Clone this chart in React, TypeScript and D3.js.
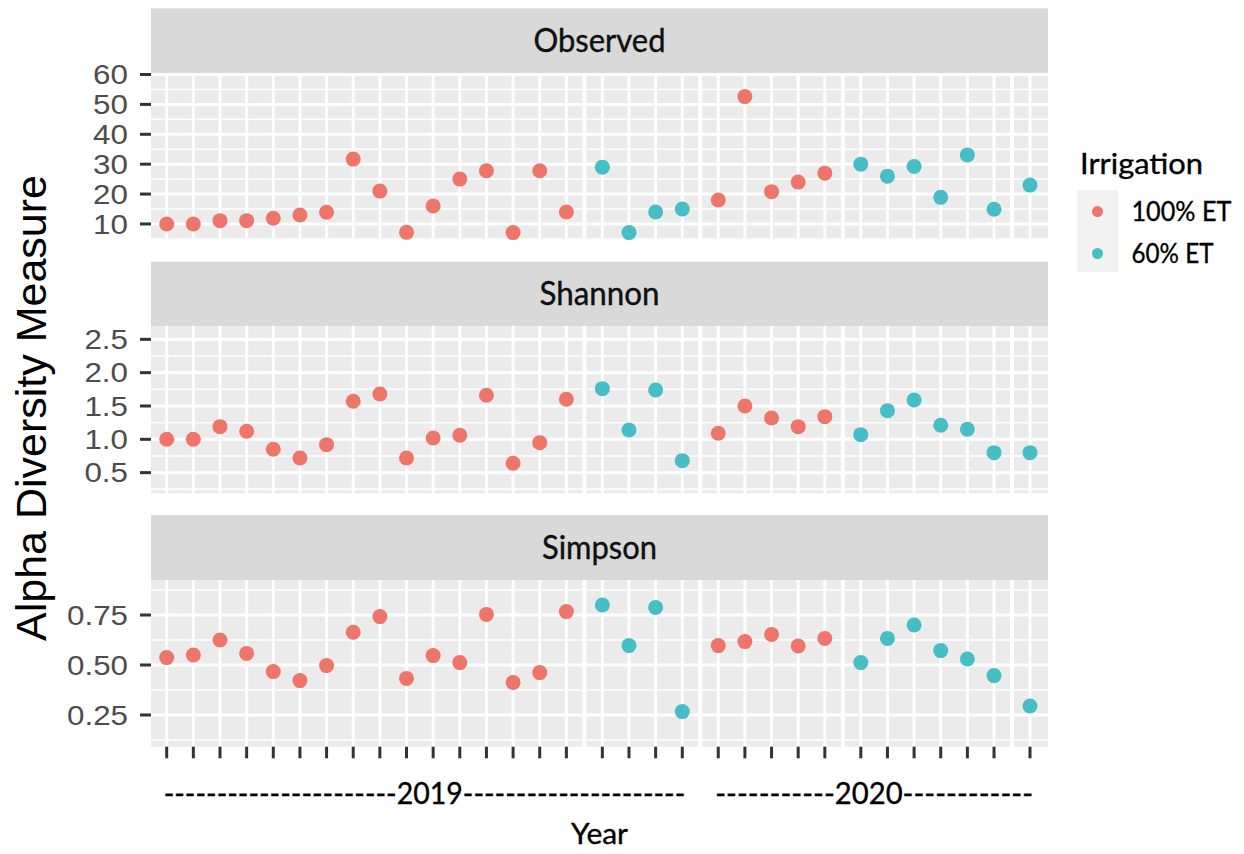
import React from "react";
import * as d3 from "d3";

// ---------------- DATA ----------------
const years = [
  "2019", "2019", "2019", "2019", "2019", "2019", "2019", "2019", "2019", "2019",
  "2019", "2019", "2019", "2019", "2019", "2019", "2019", "2019", "2019", "2019",
  "2020", "2020", "2020", "2020", "2020", "2020", "2020", "2020", "2020", "2020",
  "2020", "2020",
];
const irrigation = [
  "100% ET", "100% ET", "100% ET", "100% ET", "100% ET", "100% ET", "100% ET", "100% ET",
  "100% ET", "100% ET", "100% ET", "100% ET", "100% ET", "100% ET", "100% ET", "100% ET",
  "60% ET", "60% ET", "60% ET", "60% ET",
  "100% ET", "100% ET", "100% ET", "100% ET", "100% ET",
  "60% ET", "60% ET", "60% ET", "60% ET", "60% ET", "60% ET", "60% ET",
];
// sampling block of each sample (blocks are separated by a small gap on the x axis)
const block = [
  1, 1, 1, 1, 1, 1, 1, 1, 1, 1, 1, 1, 1, 1, 1, 1,
  2, 2, 2, 2,
  3, 3, 3, 3, 3,
  4, 4, 4, 4, 4, 4,
  5,
];
const observed = [
  10, 10, 11.1, 11.1, 11.9, 13, 13.9, 31.7, 21, 7.2,
  16, 25, 27.8, 7.1, 27.8, 14, 29, 7.1, 14, 15,
  18, 52.6, 20.8, 24, 27, 30, 26, 29.2, 18.9, 33.1,
  14.9, 23,
];
const shannon = [
  1.0, 1.0, 1.19, 1.12, 0.85, 0.72, 0.92, 1.57, 1.68, 0.72,
  1.02, 1.06, 1.66, 0.64, 0.95, 1.6, 1.76, 1.14, 1.74, 0.68,
  1.09, 1.5, 1.32, 1.19, 1.34, 1.07, 1.43, 1.59, 1.21, 1.15,
  0.8, 0.8,
];
const simpson = [
  0.537, 0.55, 0.625, 0.558, 0.467, 0.422, 0.497, 0.664, 0.742, 0.433,
  0.547, 0.512, 0.753, 0.413, 0.462, 0.767, 0.8, 0.597, 0.788, 0.267,
  0.597, 0.617, 0.653, 0.595, 0.633, 0.512, 0.633, 0.7, 0.572, 0.53,
  0.447, 0.295,
];

const measureNames = ["Observed", "Shannon", "Simpson"];
const observedTicks = [10, 20, 30, 40, 50, 60];
const shannonTicks = [0.5, 1.0, 1.5, 2.0, 2.5];
const simpsonTicks = [0.25, 0.5, 0.75];
const legendTitle = "Irrigation";
const legendLabels = ["100% ET", "60% ET"];
const yearAxisLabels = [
  { year: "2019", text: "----------------------2019---------------------" },
  { year: "2020", text: "-----------2020------------" },
];
const xTitle = "Year";
const yTitle = "Alpha Diversity Measure";

// ---------------- LAYOUT / STYLE ----------------
const W = 1244;
const H = 854;
const PANEL_LEFT = 151;
const PANEL_RIGHT = 1048;
const X_FIRST = 166.7;
const X_LAST = 1030;
const BLOCK_GAP = 0.35;

const COLORS: Record<string, string> = {
  "100% ET": "#EE7569",
  "60% ET": "#47BEC6",
};
const PANEL_BG = "#EBEBEB";
const STRIP_BG = "#D9D9D9";
const TICK_COL = "#333333";
const LABEL_COL = "#4D4D4D";
const SANS = "'Liberation Sans', Arial, Helvetica, sans-serif";
const HUMAN = "Lato, 'Open Sans', sans-serif";
const HUMAN_STROKE = { stroke: "#000", strokeWidth: 0.35 };

const panelsCfg = [
  { values: observed, ticks: observedTicks, domain: [5.2, 60.4], fmt: d3.format("d"), stripTop: 8.3, top: 73.3, bottom: 238.3, stripWidth: 132 },
  { values: shannon, ticks: shannonTicks, domain: [0.19, 2.7], fmt: d3.format(".1f"), stripTop: 261.7, top: 326, bottom: 493.3, stripWidth: 120 },
  { values: simpson, ticks: simpsonTicks, domain: [0.0915, 0.925], fmt: d3.format(".2f"), stripTop: 515, top: 580, bottom: 746.7, stripWidth: 115 },
];

function slot(i: number) {
  return i + BLOCK_GAP * (block[i] - 1);
}

export default function App() {
  const n = observed.length;
  const idx = d3.range(n);
  const x = d3.scaleLinear().domain([slot(0), slot(n - 1)]).range([X_FIRST, X_LAST]);
  const xs = idx.map((i) => x(slot(i)));

  // seams between sampling blocks
  const seams: number[] = [];
  for (let i = 1; i < n; i++) {
    if (block[i] !== block[i - 1]) seams.push((xs[i] + xs[i - 1]) / 2);
  }

  const lastPanel = panelsCfg[panelsCfg.length - 1];

  return (
    <svg width={W} height={H} style={{ position: "absolute", left: 0, top: 0, background: "#fff" }}>
      {panelsCfg.map((p, pi) => {
        const y = d3.scaleLinear().domain(p.domain).range([p.bottom, p.top]);
        const step = p.ticks[1] - p.ticks[0];
        const minors = [p.ticks[0] - step / 2, ...p.ticks.map((t) => t + step / 2)].filter(
          (v) => v >= p.domain[0] && v <= p.domain[1]
        );
        return (
          <g key={pi}>
            {/* strip */}
            <rect x={PANEL_LEFT} y={p.stripTop} width={PANEL_RIGHT - PANEL_LEFT} height={p.top - p.stripTop} fill={STRIP_BG} />
            <text
              x={(PANEL_LEFT + PANEL_RIGHT) / 2}
              y={(p.stripTop + p.top) / 2}
              dy="0.36em"
              textAnchor="middle"
              fontFamily={HUMAN}
              fontSize={32}
              fill="#111"
              {...HUMAN_STROKE}
              textLength={p.stripWidth}
              lengthAdjust="spacingAndGlyphs"
            >
              {measureNames[pi]}
            </text>
            {/* panel */}
            <rect x={PANEL_LEFT} y={p.top} width={PANEL_RIGHT - PANEL_LEFT} height={p.bottom - p.top} fill={PANEL_BG} />
            {minors.map((v, k) => (
              <line key={"mi" + k} x1={PANEL_LEFT} x2={PANEL_RIGHT} y1={y(v)} y2={y(v)} stroke="#fff" strokeWidth={1.5} />
            ))}
            {p.ticks.map((v, k) => (
              <line key={"ma" + k} x1={PANEL_LEFT} x2={PANEL_RIGHT} y1={y(v)} y2={y(v)} stroke="#fff" strokeWidth={3} />
            ))}
            {xs.map((xv, k) => (
              <line key={"vx" + k} x1={xv} x2={xv} y1={p.top} y2={p.bottom} stroke="#fff" strokeWidth={3} />
            ))}
            {seams.map((sx, k) => (
              <line key={"se" + k} x1={sx} x2={sx} y1={p.top} y2={p.bottom} stroke="#fff" strokeWidth={4} />
            ))}
            {/* y axis */}
            {p.ticks.map((v, k) => (
              <g key={"yt" + k}>
                <line x1={140} x2={PANEL_LEFT} y1={y(v)} y2={y(v)} stroke={TICK_COL} strokeWidth={3} />
                <text
                  transform={`translate(128,${y(v)}) scale(1.12,1)`}
                  dy="0.35em"
                  textAnchor="end"
                  fontFamily={SANS}
                  fontSize={28}
                  fill={LABEL_COL}
                >
                  {p.fmt(v)}
                </text>
              </g>
            ))}
            {/* points */}
            {p.values.map((v, k) => (
              <circle key={"pt" + k} cx={xs[k]} cy={y(v)} r={7.5} fill={COLORS[irrigation[k]]} />
            ))}
          </g>
        );
      })}

      {/* x axis ticks */}
      {xs.map((xv, k) => (
        <line key={"xt" + k} x1={xv} x2={xv} y1={lastPanel.bottom} y2={lastPanel.bottom + 11.6} stroke={TICK_COL} strokeWidth={3} />
      ))}

      {/* year labels */}
      {yearAxisLabels.map((yl, k) => {
        const ii = idx.filter((i) => years[i] === yl.year);
        const x0 = xs[ii[0]];
        const x1 = xs[ii[ii.length - 1]];
        return (
          <text
            key={"yl" + k}
            x={(x0 + x1) / 2}
            y={804}
            textAnchor="middle"
            fontFamily={HUMAN}
            fontSize={30}
            fill="#000"
            {...HUMAN_STROKE}
            textLength={x1 - x0 + 6}
            lengthAdjust="spacingAndGlyphs"
          >
            {yl.text}
          </text>
        );
      })}

      {/* x title */}
      <text
        x={(PANEL_LEFT + PANEL_RIGHT) / 2}
        y={844}
        textAnchor="middle"
        fontFamily={HUMAN}
        fontSize={29}
        fill="#000"
        {...HUMAN_STROKE}
        textLength={57}
        lengthAdjust="spacingAndGlyphs"
      >
        {xTitle}
      </text>

      {/* y title */}
      <text
        transform={`translate(46,408) rotate(-90)`}
        textAnchor="middle"
        fontFamily={SANS}
        fontSize={43}
        fill="#000"
      >
        {yTitle}
      </text>

      {/* legend */}
      <text x={1080} y={174} fontFamily={HUMAN} fontSize={28} fill="#000" {...HUMAN_STROKE} textLength={123} lengthAdjust="spacingAndGlyphs">
        {legendTitle}
      </text>
      <rect x={1077} y={190} width={41} height={82} fill="#F2F2F2" />
      {legendLabels.map((lab, k) => {
        const cy = 211.5 + k * 42;
        return (
          <g key={"lg" + k}>
            <circle cx={1097.5} cy={cy} r={5.5} fill={COLORS[lab]} />
            <text
              x={1131.5}
              y={cy}
              dy="0.36em"
              fontFamily={HUMAN}
              fontSize={27}
              fill="#000"
              {...HUMAN_STROKE}
              textLength={k === 0 ? 100 : 82}
              lengthAdjust="spacingAndGlyphs"
            >
              {lab}
            </text>
          </g>
        );
      })}
    </svg>
  );
}
